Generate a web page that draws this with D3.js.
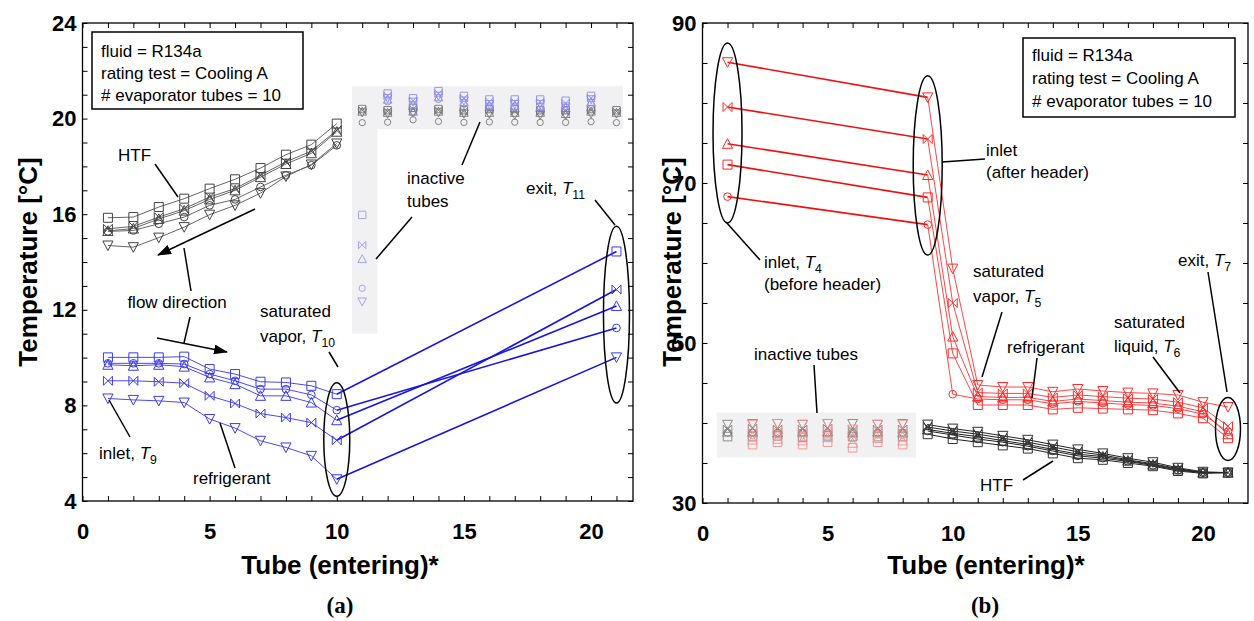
<!DOCTYPE html>
<html>
<head>
<meta charset="utf-8">
<script src="https://cdn.jsdelivr.net/npm/d3@7"></script>
<style>
  body { margin: 0; background: #fff; }
  text { font-family: "Liberation Sans", Arial, sans-serif; }
  text.panel-tag { font-family: "Liberation Serif", "Times New Roman", serif; }
</style>
</head>
<body>
<svg id="fig" width="1254" height="621"></svg>
<script>
// ---------------- data ----------------
// marker order used by every five-value list: square, bowtie, triangle up, circle, triangle down
const markerKinds = ["square", "bowtie", "triUp", "circle", "triDown"];

// (a) heat-transfer fluid, active tubes 1-10
const tubesA = [1, 2, 3, 4, 5, 6, 7, 8, 9, 10];
const htfA_square  = [15.85, 15.88, 16.30, 16.65, 17.07, 17.46, 17.93, 18.49, 18.91, 19.79];
const htfA_bowtie  = [15.39, 15.49, 15.88, 16.23, 16.72, 17.07, 17.63, 18.19, 18.64, 19.51];
const htfA_triUp   = [15.30, 15.40, 15.80, 16.15, 16.62, 17.00, 17.55, 18.10, 18.55, 19.45];
const htfA_circle  = [15.28, 15.32, 15.60, 15.88, 16.37, 16.62, 17.14, 17.63, 18.05, 18.88];
const htfA_triDown = [14.69, 14.62, 15.02, 15.46, 15.98, 16.37, 16.88, 17.58, 18.08, 18.96];

// (a) refrigerant, active tubes 1-10
const refA_square  = [10.01, 10.01, 10.01, 10.04, 9.52, 9.31, 8.99, 8.96, 8.82, 8.47];
const refA_bowtie  = [9.03, 9.03, 8.99, 8.93, 8.40, 8.08, 7.66, 7.49, 7.28, 6.54];
const refA_triUp   = [9.70, 9.66, 9.70, 9.62, 9.17, 8.89, 8.40, 8.40, 8.12, 7.38];
const refA_circle  = [9.76, 9.76, 9.76, 9.73, 9.31, 9.03, 8.68, 8.68, 8.44, 7.80];
const refA_triDown = [8.29, 8.23, 8.19, 8.12, 7.43, 7.05, 6.52, 6.24, 5.89, 4.91];
// (a) refrigerant exit, T11 (tube 21)
const exitTubeA = 21;
const refA_exit = [14.44, 12.85, 12.16, 11.24, 10.01];

// (a) inactive tubes
const inactiveColTubeA = 11;
const inactiveColA = [15.97, 14.71, 14.13, 12.90, 12.34];
const tubesInactHtfA = [11, 12, 13, 14, 15, 16, 17, 18, 19, 20, 21];
const inactHtfA_square  = [20.40, 20.35, 20.45, 20.40, 20.35, 20.40, 20.40, 20.35, 20.35, 20.40, 20.35];
const inactHtfA_bowtie  = [20.35, 20.30, 20.40, 20.35, 20.30, 20.35, 20.30, 20.30, 20.30, 20.35, 20.30];
const inactHtfA_triUp   = [20.30, 20.25, 20.30, 20.30, 20.25, 20.25, 20.25, 20.25, 20.20, 20.30, 20.25];
const inactHtfA_circle  = [19.83, 19.85, 19.95, 19.88, 19.84, 19.86, 19.85, 19.84, 19.84, 19.87, 19.83];
const inactHtfA_triDown = [20.25, 20.20, 20.25, 20.25, 20.20, 20.20, 20.15, 20.15, 20.15, 20.20, 20.20];
const tubesInactRefA = [12, 13, 14, 15, 16, 17, 18, 19, 20];
const inactRefA_square  = [21.05, 20.85, 21.15, 20.95, 20.80, 20.80, 20.80, 20.75, 20.95];
const inactRefA_bowtie  = [20.95, 20.75, 21.05, 20.85, 20.70, 20.70, 20.70, 20.65, 20.85];
const inactRefA_triUp   = [20.80, 20.60, 20.90, 20.70, 20.55, 20.55, 20.50, 20.45, 20.70];
const inactRefA_circle  = [20.70, 20.25, 20.80, 20.60, 20.45, 20.45, 20.40, 20.35, 20.60];
const inactRefA_triDown = [20.85, 20.70, 20.95, 20.75, 20.60, 20.60, 20.60, 20.50, 20.80];

// (b) refrigerant inlet before header, T4 (tube 1)
const inletTubeB = 1;
const refB_inlet = [72.3, 79.5, 74.9, 68.3, 85.1];
// (b) refrigerant, active tubes 9-21
const tubesB = [9, 10, 11, 12, 13, 14, 15, 16, 17, 18, 19, 20, 21];
const refB_square  = [68.2, 48.7, 42.25, 42.25, 42.25, 41.7, 41.9, 41.8, 41.7, 41.6, 41.2, 40.6, 38.1];
const refB_bowtie  = [75.5, 55.0, 43.8, 43.7, 43.7, 43.2, 43.5, 43.3, 43.1, 43.0, 42.6, 41.9, 39.6];
const refB_triUp   = [71.0, 50.8, 43.3, 43.2, 43.2, 42.7, 43.0, 42.8, 42.6, 42.5, 42.1, 41.4, 38.6];
const refB_circle  = [64.8, 43.6, 43.0, 42.9, 42.9, 42.4, 42.7, 42.5, 42.3, 42.2, 41.8, 41.1, 38.9];
const refB_triDown = [80.7, 59.3, 44.75, 44.5, 44.5, 43.9, 44.25, 44.0, 43.8, 43.7, 43.5, 42.6, 42.0];
// (b) heat-transfer fluid, active tubes 9-21
const htfB_square  = [38.6, 38.0, 37.6, 37.2, 36.8, 36.2, 35.6, 35.4, 35.0, 34.6, 34.0, 33.7, 33.8];
const htfB_bowtie  = [39.5, 39.0, 38.6, 38.1, 37.6, 37.0, 36.4, 36.0, 35.4, 34.9, 34.3, 33.8, 33.8];
const htfB_triUp   = [39.2, 38.7, 38.3, 37.8, 37.3, 36.7, 36.1, 35.8, 35.3, 34.8, 34.2, 33.8, 33.8];
const htfB_circle  = [39.0, 38.5, 38.0, 37.6, 37.1, 36.5, 35.9, 35.6, 35.2, 34.7, 34.1, 33.8, 33.8];
const htfB_triDown = [39.8, 39.3, 38.9, 38.4, 37.9, 37.3, 36.7, 36.2, 35.6, 35.1, 34.4, 33.9, 33.8];

// (b) inactive tubes 1-8
const tubesInactHtfB = [1, 2, 3, 4, 5, 6, 7, 8];
const inactHtfB_square  = [38.3, 38.3, 38.4, 38.2, 38.4, 38.3, 38.3, 38.3];
const inactHtfB_bowtie  = [39.2, 39.3, 39.2, 39.2, 39.3, 39.1, 39.2, 39.2];
const inactHtfB_triUp   = [38.9, 38.9, 38.8, 38.9, 38.9, 38.8, 38.9, 38.8];
const inactHtfB_circle  = [38.8, 38.8, 38.8, 38.8, 38.8, 38.8, 38.8, 38.8];
const inactHtfB_triDown = [39.8, 39.9, 39.9, 39.8, 39.9, 39.9, 39.8, 39.9];
const tubesInactRefB = [2, 3, 4, 5, 6, 7, 8];
const inactRefB_square  = [37.3, 37.6, 37.3, 37.6, 36.9, 37.6, 37.3];
const inactRefB_bowtie  = [38.8, 38.9, 38.8, 39.0, 38.4, 39.0, 38.8];
const inactRefB_triUp   = [37.9, 38.0, 37.8, 38.2, 37.5, 38.1, 37.8];
const inactRefB_circle  = [38.5, 38.6, 38.5, 38.7, 38.1, 38.6, 38.5];
const inactRefB_triDown = [39.8, 39.9, 39.8, 39.9, 39.2, 39.8, 39.8];

// axis ticks
const xTicks = d3.range(0, 22);
const xTickLabels = [0, 5, 10, 15, 20];
const yTicksA = d3.range(4, 25);
const yTickLabelsA = [4, 8, 12, 16, 20, 24];
const yTicksB = d3.range(30, 91, 5);
const yTickLabelsB = [30, 50, 70, 90];

// ---------------- drawing ----------------
const svg = d3.select("#fig");
const defs = svg.append("defs");
defs.append("marker").attr("id", "arrow")
  .attr("viewBox", "0 0 14 10").attr("refX", 13).attr("refY", 5)
  .attr("markerWidth", 14).attr("markerHeight", 10)
  .attr("markerUnits", "userSpaceOnUse").attr("orient", "auto")
  .append("path").attr("d", "M0,0 L14,5 L0,10 Z").attr("fill", "#000");

function symbolPath(kind, s) {
  switch (kind) {
    case "square":  return `M${-s},${-s}H${s}V${s}H${-s}Z`;
    case "bowtie":  return `M${-s},${-s}L${s},${s}V${-s}L${-s},${s}Z`;
    case "triUp":   return `M0,${-s - 0.6}L${s + 0.6},${s}H${-s - 0.6}Z`;
    case "triDown": return `M0,${s + 0.6}L${s + 0.6},${-s}H${-s - 0.6}Z`;
    case "circle": {
      const r = s * 0.85;
      return `M${r},0A${r},${r} 0 1,1 ${-r},0A${r},${r} 0 1,1 ${r},0Z`;
    }
  }
}

function drawLine(g, x, y, tubes, vals, color, width) {
  const line = d3.line().x((d, i) => x(tubes[i])).y(d => y(d));
  g.append("path").attr("d", line(vals))
    .attr("fill", "none").attr("stroke", color).attr("stroke-width", width);
}

function drawMarkers(g, x, y, tubes, vals, kind, color, size = 4.5, width = 1) {
  g.selectAll(null).data(vals).enter().append("path")
    .attr("transform", (d, i) => `translate(${x(tubes[i])},${y(d)})`)
    .attr("d", symbolPath(kind, size))
    .attr("fill", "none").attr("stroke", color).attr("stroke-width", width);
}

function drawFrame(g, x, y, yTicks, yLabels) {
  const [x0, x1] = x.range();
  const [y0, y1] = y.range();
  const tickFont = g => g.selectAll("text")
    .attr("font-weight", "bold").attr("font-size", 22).attr("fill", "#000");

  const bottom = g.append("g").attr("transform", `translate(0,${y0})`)
    .call(d3.axisBottom(x).tickValues(xTicks).tickSizeInner(-5).tickSizeOuter(0)
      .tickPadding(22).tickFormat(d => xTickLabels.includes(d) ? d : ""));
  bottom.call(tickFont);
  g.append("g").attr("transform", `translate(0,${y1})`)
    .call(d3.axisTop(x).tickValues(xTicks).tickSizeInner(-5).tickSizeOuter(0).tickFormat(""));
  const left = g.append("g").attr("transform", `translate(${x0},0)`)
    .call(d3.axisLeft(y).tickValues(yTicks).tickSizeInner(-5).tickSizeOuter(0)
      .tickPadding(6).tickFormat(d => yLabels.includes(d) ? d : ""));
  left.call(tickFont);
  g.append("g").attr("transform", `translate(${x1},0)`)
    .call(d3.axisRight(y).tickValues(yTicks).tickSizeInner(-5).tickSizeOuter(0).tickFormat(""));
  g.selectAll(".domain").remove();
  g.selectAll(".tick line").attr("stroke", "#000").attr("stroke-width", 1);
  g.append("rect").attr("x", x0).attr("y", y1).attr("width", x1 - x0).attr("height", y0 - y1)
    .attr("fill", "none").attr("stroke", "#000").attr("stroke-width", 1.3);
}

// text with optional italic symbol and subscript
function label(g, x, y, parts, anchor = "start", size = 17) {
  const t = g.append("text").attr("x", x).attr("y", y)
    .attr("font-size", size).attr("text-anchor", anchor).attr("fill", "#000");
  parts.forEach(p => {
    if (typeof p === "string") t.append("tspan").text(p);
    else if (p.i) t.append("tspan").attr("font-style", "italic").text(p.i);
    else if (p.sub) t.append("tspan").attr("font-size", size * 0.72).attr("dy", 5).text(p.sub);
  });
  return t;
}
function leader(g, x1, y1, x2, y2, arrow = false) {
  const l = g.append("line").attr("x1", x1).attr("y1", y1).attr("x2", x2).attr("y2", y2)
    .attr("stroke", "#000").attr("stroke-width", 1.5);
  if (arrow) l.attr("marker-end", "url(#arrow)");
}
function ellipse(g, cx, cy, rx, ry) {
  g.append("ellipse").attr("cx", cx).attr("cy", cy).attr("rx", rx).attr("ry", ry)
    .attr("fill", "none").attr("stroke", "#000").attr("stroke-width", 1.5);
}
function infoBox(g, x, y, w, h, tx, baselines) {
  g.append("rect").attr("x", x).attr("y", y).attr("width", w).attr("height", h)
    .attr("fill", "#fff").attr("stroke", "#000").attr("stroke-width", 1.5);
  ["fluid = R134a", "rating test = Cooling A", "# evaporator tubes = 10"]
    .forEach((s, i) => label(g, tx, baselines[i], [s]));
}
function axisTitles(g, yTitleX, xTitleX, tagX, tag) {
  g.append("text").attr("transform", `translate(${yTitleX},262) rotate(-90)`).attr("dy", "0.35em")
    .attr("text-anchor", "middle").attr("font-weight", "bold").attr("font-size", 26)
    .text("Temperature [°C]");
  g.append("text").attr("x", xTitleX).attr("y", 574).attr("text-anchor", "middle")
    .attr("font-weight", "bold").attr("font-size", 26).text("Tube (entering)*");
  g.append("text").attr("class", "panel-tag").attr("x", tagX).attr("y", 613)
    .attr("text-anchor", "middle").attr("font-weight", "bold").attr("font-size", 23).text(tag);
}

// ---------- panel (a) ----------
const xA = d3.scaleLinear().domain([0, 21.65]).range([82.5, 633]);
const yA = d3.scaleLinear().domain([4, 24]).range([501, 23]);
const gA = svg.append("g");

// shaded area behind the inactive tubes
gA.append("path")
  .attr("d", `M${xA(10.6)},${yA(21.35)}H${xA(21.25)}V${yA(19.55)}H${xA(11.6)}V${yA(11.0)}H${xA(10.6)}Z`)
  .attr("fill", "#f1f1f3");

const htfAList = [htfA_square, htfA_bowtie, htfA_triUp, htfA_circle, htfA_triDown];
const refAList = [refA_square, refA_bowtie, refA_triUp, refA_circle, refA_triDown];
const inactHtfAList = [inactHtfA_square, inactHtfA_bowtie, inactHtfA_triUp, inactHtfA_circle, inactHtfA_triDown];
const inactRefAList = [inactRefA_square, inactRefA_bowtie, inactRefA_triUp, inactRefA_circle, inactRefA_triDown];

// inactive tube markers
markerKinds.forEach((k, i) => {
  drawMarkers(gA, xA, yA, tubesInactHtfA, inactHtfAList[i], k, "#777", 3.7, 0.9);
  drawMarkers(gA, xA, yA, tubesInactRefA, inactRefAList[i], k, "#8c8cf2", 3.7, 0.9);
  drawMarkers(gA, xA, yA, [inactiveColTubeA], [inactiveColA[i]], k, "#9a9af0", 3.7, 0.9);
});

// heat-transfer fluid
htfAList.forEach(v => drawLine(gA, xA, yA, tubesA, v, "#666", 1));
markerKinds.forEach((k, i) => drawMarkers(gA, xA, yA, tubesA, htfAList[i], k, "#444"));

// refrigerant
refAList.forEach(v => drawLine(gA, xA, yA, tubesA, v, "#4a4af5", 1));
refAList.forEach((v, i) => drawLine(gA, xA, yA, [10, exitTubeA], [v[9], refA_exit[i]], "#1515dd", 1.6));
markerKinds.forEach((k, i) => {
  drawMarkers(gA, xA, yA, tubesA, refAList[i], k, "#3a3af0");
  drawMarkers(gA, xA, yA, [exitTubeA], [refA_exit[i]], k, "#3a3af0");
});

drawFrame(gA, xA, yA, yTicksA, yTickLabelsA);

// annotations (a)
infoBox(gA, 92, 32, 211, 77, 101, [57, 79, 101]);
label(gA, 118, 161, ["HTF"]);
leader(gA, 155, 164, 178, 197);
leader(gA, 255, 209, 158, 255, true);
leader(gA, 157, 338, 227, 352, true);
label(gA, 177, 308, ["flow direction"], "middle");
leader(gA, 191, 291, 184, 248);
leader(gA, 190, 317, 184, 343);
label(gA, 260, 317, ["saturated"]);
label(gA, 260, 342, ["vapor, ", { i: "T" }, { sub: "10" }]);
leader(gA, 329, 352, 338, 367);
ellipse(gA, xA(10), (yA(8.95) + yA(4.2)) / 2, 13, (yA(4.2) - yA(8.95)) / 2);
label(gA, 99, 459, ["inlet, ", { i: "T" }, { sub: "9" }]);
leader(gA, 109, 400, 130, 437);
label(gA, 193, 484, ["refrigerant"]);
leader(gA, 220, 423, 235, 468);
label(gA, 407, 184, ["inactive"]);
label(gA, 407, 207, ["tubes"]);
leader(gA, 462, 165, 480, 122);
leader(gA, 412, 217, 376, 259);
label(gA, 526, 194, ["exit, ", { i: "T" }, { sub: "11" }]);
leader(gA, 595, 200, 615, 225);
ellipse(gA, xA(exitTubeA), (yA(15.5) + yA(8.1)) / 2, 13, (yA(8.1) - yA(15.5)) / 2);

axisTitles(gA, 28, 340, 340, "(a)");

// ---------- panel (b) ----------
const xB = d3.scaleLinear().domain([0, 21.8]).range([702.5, 1248]);
const yB = d3.scaleLinear().domain([30, 90]).range([503, 23]);
const gB = svg.append("g");

gB.append("rect").attr("x", xB(0.57)).attr("y", yB(41.3)).attr("width", xB(8.53) - xB(0.57))
  .attr("height", yB(35.7) - yB(41.3)).attr("fill", "#f1f1f1");

const refBList = [refB_square, refB_bowtie, refB_triUp, refB_circle, refB_triDown];
const htfBList = [htfB_square, htfB_bowtie, htfB_triUp, htfB_circle, htfB_triDown];
const inactHtfBList = [inactHtfB_square, inactHtfB_bowtie, inactHtfB_triUp, inactHtfB_circle, inactHtfB_triDown];
const inactRefBList = [inactRefB_square, inactRefB_bowtie, inactRefB_triUp, inactRefB_circle, inactRefB_triDown];

markerKinds.forEach((k, i) => {
  drawMarkers(gB, xB, yB, tubesInactHtfB, inactHtfBList[i], k, "#808080", 4.3, 0.9);
  drawMarkers(gB, xB, yB, tubesInactRefB, inactRefBList[i], k, "#f39090", 4.3, 0.9);
});

// heat-transfer fluid
htfBList.forEach(v => drawLine(gB, xB, yB, tubesB, v, "#222", 1));
markerKinds.forEach((k, i) => drawMarkers(gB, xB, yB, tubesB, htfBList[i], k, "#333"));

// refrigerant: header connection 1 -> 9, then active tubes
refBList.forEach((v, i) => drawLine(gB, xB, yB, [inletTubeB, 9], [refB_inlet[i], v[0]], "#ee1111", 1.6));
refBList.forEach(v => drawLine(gB, xB, yB, tubesB, v, "#ff4545", 1));
markerKinds.forEach((k, i) => {
  drawMarkers(gB, xB, yB, tubesB, refBList[i], k, "#ff2a2a");
  drawMarkers(gB, xB, yB, [inletTubeB], [refB_inlet[i]], k, "#ff2a2a");
});

drawFrame(gB, xB, yB, yTicksB, yTickLabelsB);

// annotations (b)
infoBox(gB, 1023, 38, 212, 79, 1032, [61, 84, 107]);
ellipse(gB, xB(1), (yB(87.5) + yB(65.0)) / 2, 14.5, (yB(65.0) - yB(87.5)) / 2);
ellipse(gB, xB(9), (yB(83.4) + yB(61.0)) / 2, 14.5, (yB(61.0) - yB(83.4)) / 2);
leader(gB, 726, 222, 760, 260);
label(gB, 764, 268, ["inlet, ", { i: "T" }, { sub: "4" }]);
label(gB, 764, 290, ["(before header)"]);
leader(gB, 942, 162, 985, 159);
label(gB, 986, 156, ["inlet"]);
label(gB, 986, 178, ["(after header)"]);
label(gB, 973, 277, ["saturated"]);
label(gB, 973, 302, ["vapor, ", { i: "T" }, { sub: "5" }]);
leader(gB, 1002, 312, 982, 377);
label(gB, 1007, 353, ["refrigerant"]);
leader(gB, 1037, 358, 1032, 398);
label(gB, 1114, 328, ["saturated"]);
label(gB, 1114, 352, ["liquid, ", { i: "T" }, { sub: "6" }]);
leader(gB, 1153, 357, 1180, 393);
label(gB, 1178, 266, ["exit, ", { i: "T" }, { sub: "7" }]);
leader(gB, 1208, 272, 1227, 392);
ellipse(gB, xB(21), (yB(43.2) + yB(35.3)) / 2, 12.5, (yB(35.3) - yB(43.2)) / 2);
label(gB, 980, 491, ["HTF"]);
leader(gB, 1023, 480, 1053, 461);
label(gB, 754, 360, ["inactive tubes"]);
leader(gB, 814, 365, 817, 413);

axisTitles(gB, 672, 986, 985, "(b)");
</script>
</body>
</html>
